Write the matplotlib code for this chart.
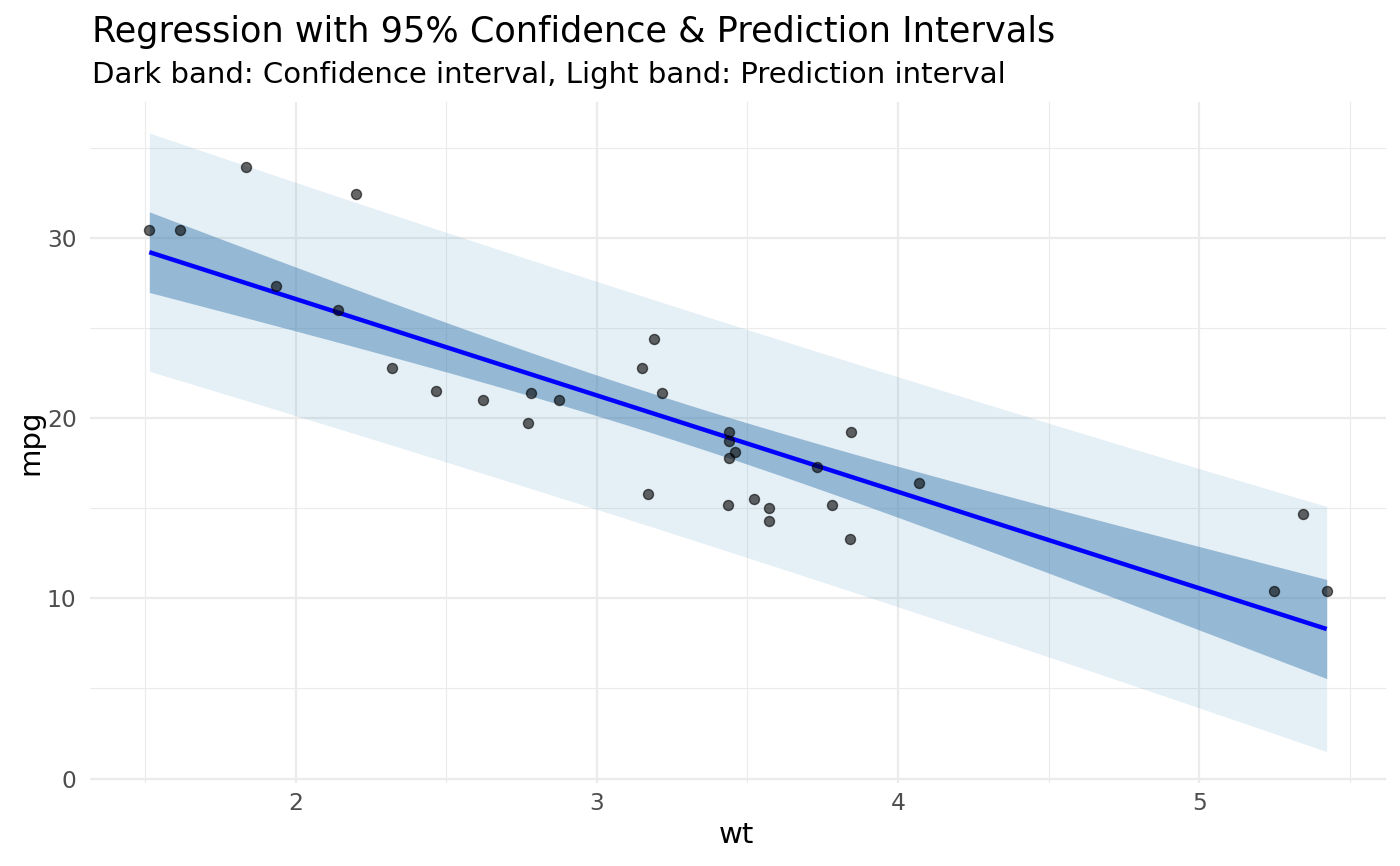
import numpy as np
import matplotlib
matplotlib.use("Agg")
import matplotlib.pyplot as plt
from matplotlib.ticker import MultipleLocator

# mtcars: weight (1000 lbs) and miles per gallon
wt = [2.620, 2.875, 2.320, 3.215, 3.440, 3.460, 3.570, 3.190, 3.150, 3.440,
      3.440, 4.070, 3.730, 3.780, 5.250, 5.424, 5.345, 2.200, 1.615, 1.835,
      2.465, 3.520, 3.435, 3.840, 3.845, 1.935, 2.140, 1.513, 3.170, 2.770,
      3.570, 2.780]
mpg = [21.0, 21.0, 22.8, 21.4, 18.7, 18.1, 14.3, 24.4, 22.8, 19.2,
       17.8, 16.4, 17.3, 15.2, 10.4, 10.4, 14.7, 32.4, 30.4, 33.9,
       21.5, 15.5, 15.2, 13.3, 19.2, 27.3, 26.0, 30.4, 15.8, 19.7,
       15.0, 21.4]
x_ticks = [2, 3, 4, 5]
y_ticks = [0, 10, 20, 30]

title = "Regression with 95% Confidence & Prediction Intervals"
subtitle = "Dark band: Confidence interval, Light band: Prediction interval"

# linear fit, like lm(mpg ~ wt)
x = np.array(wt)
y = np.array(mpg)
n = len(x)
b1, b0 = np.polyfit(x, y, 1)
resid = y - (b0 + b1 * x)
s = np.sqrt(np.sum(resid**2) / (n - 2))
t975 = 2.042272  # qt(0.975, df = 30)
sxx = np.sum((x - x.mean())**2)

grid_x = np.linspace(x.min(), x.max(), 80)
fit = b0 + b1 * grid_x
se_fit = s * np.sqrt(1 / n + (grid_x - x.mean())**2 / sxx)
se_pred = s * np.sqrt(1 + 1 / n + (grid_x - x.mean())**2 / sxx)
ci_lo, ci_hi = fit - t975 * se_fit, fit + t975 * se_fit
pi_lo, pi_hi = fit - t975 * se_pred, fit + t975 * se_pred

fig = plt.figure(figsize=(14, 8.66), dpi=100)
ax = fig.add_axes([0.0646, 0.0963, 0.9251, 0.7859])

ax.fill_between(grid_x, pi_lo, pi_hi, color="#3182BD", alpha=0.12, lw=0)
ax.fill_between(grid_x, ci_lo, ci_hi, color="steelblue", alpha=0.5, lw=0)
ax.plot(grid_x, fit, color="blue", lw=3.2, solid_capstyle="butt")
ax.scatter(x, y, s=52, facecolor=(0, 0, 0, 0.6), edgecolor=(0, 0, 0, 0.6),
           linewidth=1.0, zorder=3)

# ggplot-like 5% expansion
xr = x.max() - x.min()
ax.set_xlim(x.min() - 0.05 * xr, x.max() + 0.05 * xr)
ylo, yhi = min(pi_lo.min(), y.min()), max(pi_hi.max(), y.max())
yr = yhi - ylo
ax.set_ylim(ylo - 0.05 * yr, yhi + 0.05 * yr)

ax.set_xticks(x_ticks)
ax.set_yticks(y_ticks)
ax.xaxis.set_minor_locator(MultipleLocator(0.5))
ax.yaxis.set_minor_locator(MultipleLocator(5))
ax.grid(which="major", color="#EBEBEB", lw=1.6)
ax.grid(which="minor", color="#EBEBEB", lw=0.8)
ax.set_axisbelow(True)
for sp in ax.spines.values():
    sp.set_visible(False)
ax.tick_params(which="both", length=0)
ax.tick_params(axis="x", pad=7, labelsize=16.8, labelcolor="#4D4D4D")
ax.tick_params(axis="y", pad=10, labelsize=16.8, labelcolor="#4D4D4D")

fig.text(736 / 1400, 1 - 843 / 866, "wt", fontsize=21, ha="center", va="baseline")
fig.text(30 / 1400, 1 - 442 / 866, "mpg", fontsize=21, rotation=90,
         ha="center", va="center")

fig.text(92 / 1400, 1 - 42 / 866, title, fontsize=25.3, ha="left", va="baseline")
fig.text(92 / 1400, 1 - 83 / 866, subtitle, fontsize=21, ha="left", va="baseline")

fig.savefig("out.png", dpi=100)
